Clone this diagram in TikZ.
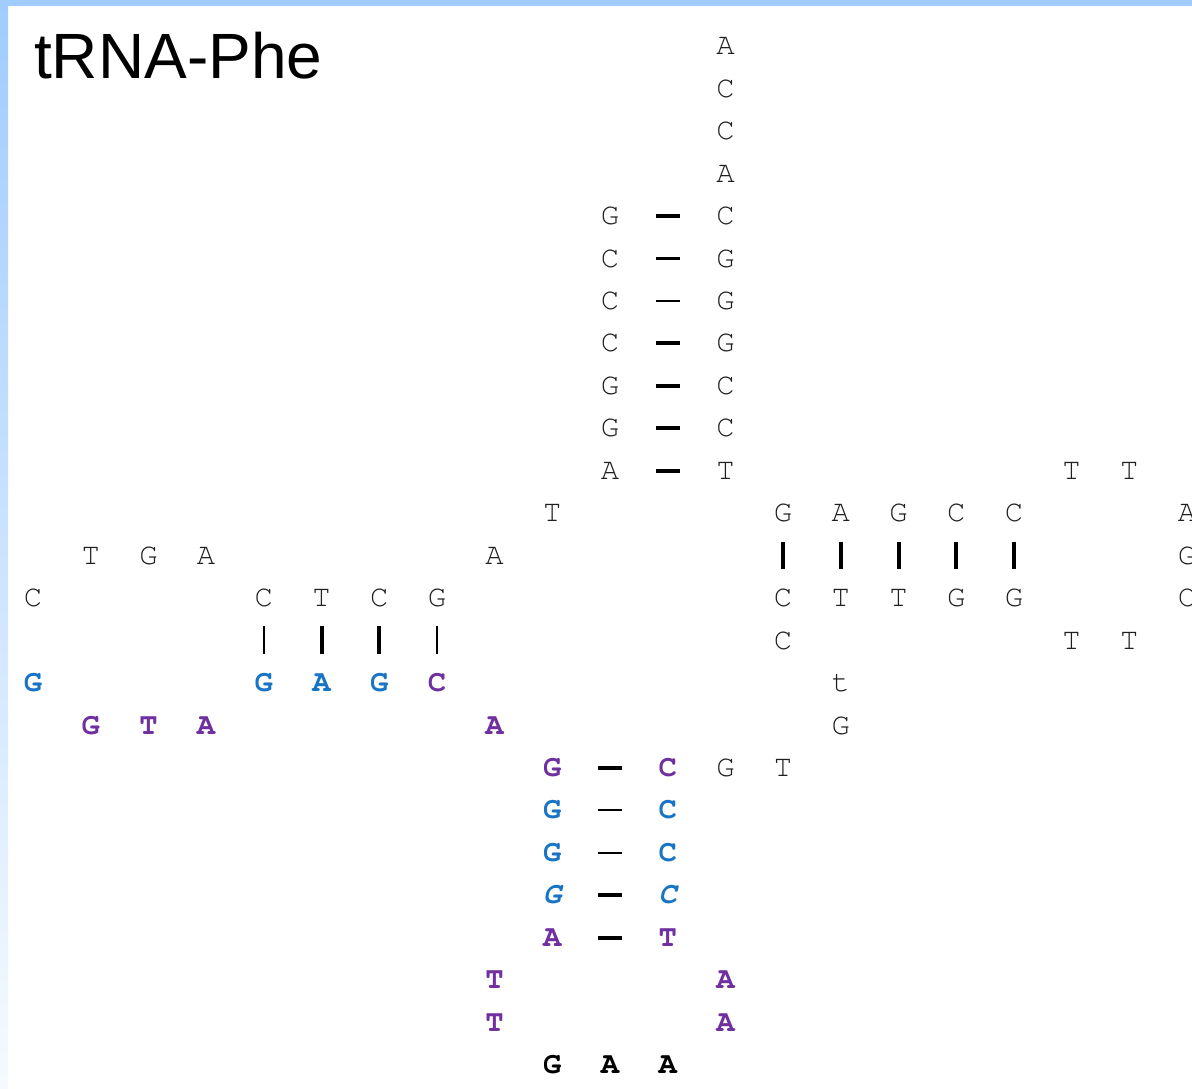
\documentclass[tikz,border=0pt]{standalone}
\usepackage{fontspec}
\setmainfont{Liberation Sans}
\newfontfamily\dnafont{TeX Gyre Cursor}
\definecolor{ntblue}{HTML}{1874C4}
\definecolor{ntpurple}{HTML}{7030A0}
\definecolor{frameblue}{HTML}{A0CCFF}
\definecolor{framepale}{HTML}{F6FAFF}
% grid of the sequence: column step 57.7, row step 42.46
\newcommand\nt[5]{\node[base,#4] (#1) at ({33+57.7*#2},{46+42.46*#3}) {#5};}
\begin{document}
\begin{tikzpicture}[x=1pt,y=-1pt,
  base/.style={font=\dnafont\fontsize{30.5}{30}\selectfont, inner sep=0pt,
    text height=17.4pt, text depth=0pt, text=black!88},
  plain/.style={},
  bb/.style={font=\dnafont\bfseries\fontsize{30.5}{30}\selectfont, text=ntblue},
  bp/.style={font=\dnafont\bfseries\fontsize{30.5}{30}\selectfont, text=ntpurple},
  bk/.style={font=\dnafont\bfseries\fontsize{30.5}{30}\selectfont, text=black},
  bi/.style={font=\dnafont\bfseries\itshape\fontsize{30.5}{30}\selectfont, text=ntblue},
  hpair/.style={line width=#1, shorten <=45.7pt, shorten >=45.7pt},
  vpair/.style={line width=#1, shorten <=28.5pt, shorten >=28.5pt}]
\useasboundingbox (0,0) rectangle (1192,1088);
\clip (0,0) rectangle (1192,1088);
\fill[white] (0,0) rectangle (1192,1088);
\shade[top color=frameblue, bottom color=framepale] (0,0) rectangle (8,1088);
\fill[frameblue] (0,0) rectangle (1192,6);

\node[font=\fontsize{64}{64}\selectfont, anchor=base west, inner sep=0pt] (title) at (34,78) {tRNA-Phe};

% acceptor stem
\nt{a0}{12}{0}{plain}{A}
\nt{a1}{12}{1}{plain}{C}
\nt{a2}{12}{2}{plain}{C}
\nt{a3}{12}{3}{plain}{A}
\nt{a4}{12}{4}{plain}{C}
\nt{a5}{12}{5}{plain}{G}
\nt{a6}{12}{6}{plain}{G}
\nt{a7}{12}{7}{plain}{G}
\nt{a8}{12}{8}{plain}{C}
\nt{a9}{12}{9}{plain}{C}
\nt{a10}{12}{10}{plain}{T}
\nt{f4}{10}{4}{plain}{G}
\nt{f5}{10}{5}{plain}{C}
\nt{f6}{10}{6}{plain}{C}
\nt{f7}{10}{7}{plain}{C}
\nt{f8}{10}{8}{plain}{G}
\nt{f9}{10}{9}{plain}{G}
\nt{f10}{10}{10}{plain}{A}
\draw[hpair=4pt] (f4.center) -- (a4.center);
\draw[hpair=3pt] (f5.center) -- (a5.center);
\draw[hpair=2.4pt] (f6.center) -- (a6.center);
\draw[hpair=4pt] (f7.center) -- (a7.center);
\draw[hpair=4pt] (f8.center) -- (a8.center);
\draw[hpair=4pt] (f9.center) -- (a9.center);
\draw[hpair=4pt] (f10.center) -- (a10.center);

% linker bases
\nt{l1}{9}{11}{plain}{T}
\nt{l2}{8}{12}{plain}{A}

% D arm
\nt{d1}{7}{13}{plain}{G}
\nt{d2}{6}{13}{plain}{C}
\nt{d3}{5}{13}{plain}{T}
\nt{d4}{4}{13}{plain}{C}
\nt{dl1}{3}{12}{plain}{A}
\nt{dl2}{2}{12}{plain}{G}
\nt{dl3}{1}{12}{plain}{T}
\nt{dl4}{0}{13}{plain}{C}
\nt{dl5}{0}{15}{bb}{G}
\nt{dl6}{1}{16}{bp}{G}
\nt{dl7}{2}{16}{bp}{T}
\nt{dl8}{3}{16}{bp}{A}
\nt{e4}{4}{15}{bb}{G}
\nt{e3}{5}{15}{bb}{A}
\nt{e2}{6}{15}{bb}{G}
\nt{e1}{7}{15}{bp}{C}
\draw[vpair=2.2pt] (d4.center) -- (e4.center);
\draw[vpair=4pt] (d3.center) -- (e3.center);
\draw[vpair=4pt] (d2.center) -- (e2.center);
\draw[vpair=2.2pt] (d1.center) -- (e1.center);
\nt{l3}{8}{16}{bp}{A}

% anticodon arm
\nt{c1}{9}{17}{bp}{G}
\nt{c2}{9}{18}{bb}{G}
\nt{c3}{9}{19}{bb}{G}
\nt{c4}{9}{20}{bi}{G}
\nt{c5}{9}{21}{bp}{A}
\nt{k1}{11}{17}{bp}{C}
\nt{k2}{11}{18}{bb}{C}
\nt{k3}{11}{19}{bb}{C}
\nt{k4}{11}{20}{bi}{C}
\nt{k5}{11}{21}{bp}{T}
\draw[hpair=3.4pt] (c1.center) -- (k1.center);
\draw[hpair=2.4pt] (c2.center) -- (k2.center);
\draw[hpair=2.4pt] (c3.center) -- (k3.center);
\draw[hpair=4pt] (c4.center) -- (k4.center);
\draw[hpair=4pt] (c5.center) -- (k5.center);
\nt{cl1}{8}{22}{bp}{T}
\nt{cl2}{8}{23}{bp}{T}
\nt{cl3}{9}{24}{bk}{G}
\nt{cl4}{10}{24}{bk}{A}
\nt{cl5}{11}{24}{bk}{A}
\nt{cl6}{12}{23}{bp}{A}
\nt{cl7}{12}{22}{bp}{A}

% variable loop
\nt{v1}{12}{17}{plain}{G}
\nt{v2}{13}{17}{plain}{T}
\nt{v3}{14}{16}{plain}{G}
\nt{v4}{14}{15}{plain}{t}
\nt{v5}{13}{14}{plain}{C}

% T arm
\nt{t1}{13}{13}{plain}{C}
\nt{t2}{14}{13}{plain}{T}
\nt{t3}{15}{13}{plain}{T}
\nt{t4}{16}{13}{plain}{G}
\nt{t5}{17}{13}{plain}{G}
\nt{u1}{13}{11}{plain}{G}
\nt{u2}{14}{11}{plain}{A}
\nt{u3}{15}{11}{plain}{G}
\nt{u4}{16}{11}{plain}{C}
\nt{u5}{17}{11}{plain}{C}
\draw[vpair=3.4pt] (u1.center) -- (t1.center);
\draw[vpair=4pt] (u2.center) -- (t2.center);
\draw[vpair=4pt] (u3.center) -- (t3.center);
\draw[vpair=4pt] (u4.center) -- (t4.center);
\draw[vpair=4pt] (u5.center) -- (t5.center);
\nt{tl1}{18}{14}{plain}{T}
\nt{tl2}{19}{14}{plain}{T}
\nt{tl3}{20}{13}{plain}{C}
\nt{tl4}{20}{12}{plain}{G}
\nt{tl5}{20}{11}{plain}{A}
\nt{tl6}{19}{10}{plain}{T}
\nt{tl7}{18}{10}{plain}{T}
\end{tikzpicture}
\end{document}
